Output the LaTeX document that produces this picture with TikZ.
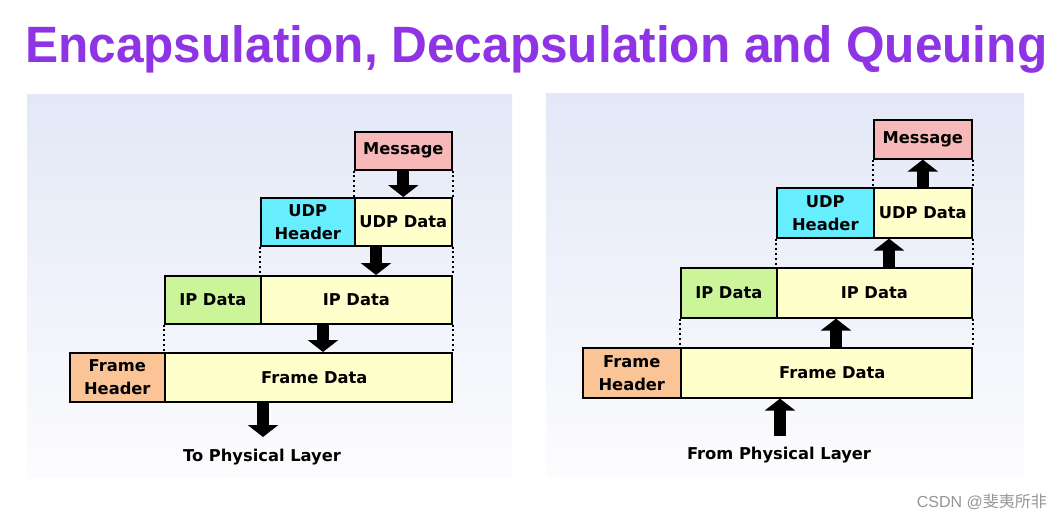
\documentclass[tikz,border=0pt]{standalone}
\usepackage{graphicx}
\usepackage{fontspec}
\setmainfont{DejaVu Sans}
\newfontfamily\titlefont{Liberation Sans}
\newfontfamily\cjk{Noto Sans CJK SC}
\usetikzlibrary{arrows.meta}
\definecolor{msgc}{RGB}{246,184,184}
\definecolor{udpc}{RGB}{102,238,255}
\definecolor{yelc}{RGB}{255,255,204}
\definecolor{grnc}{RGB}{204,245,153}
\definecolor{frmc}{RGB}{250,196,150}
\definecolor{titc}{RGB}{143,52,228}
\definecolor{pantop}{RGB}{226,232,246}
\definecolor{panbot}{RGB}{252,252,254}
\definecolor{wmc}{RGB}{150,150,150}
\begin{document}
\begin{tikzpicture}[x=1pt,y=-1pt,
  box/.style={draw=black, line width=1.6pt, anchor=north west, inner sep=0pt, align=center,
    font=\bfseries\fontsize{16.3}{23}\selectfont},
  dots/.style={line width=2pt, dash pattern=on 2pt off 2.8pt},
  bigarrow/.style={line width=12pt, -{Triangle[width=30pt,length=12pt]}},
  panel/.style={top color=pantop, bottom color=panbot, draw=none},
  lbl/.style={font=\bfseries\fontsize{16.3}{20}\selectfont}]
\useasboundingbox (0,0) rectangle (1062,520);
\fill[white] (0,0) rectangle (1062,520);
% title
\node[inner sep=0pt, anchor=base west, text=titc] (title) at (25,62)
  {\resizebox{1022pt}{37pt}{\titlefont\bfseries Encapsulation, Decapsulation and Queuing}};
% panels
\shade[panel] (27,94) rectangle (512,477);
\shade[panel] (546,93) rectangle (1024,476);
% ---------- left panel ----------
\node[box, fill=msgc, minimum width=97pt, minimum height=38pt] (lmsg) at (354,131) {Message};
\node[box, fill=udpc, minimum width=94pt, minimum height=48pt] (ludph) at (260,197) {UDP\\Header};
\node[box, fill=yelc, minimum width=97pt, minimum height=48pt] (ludpd) at (354,197) {UDP Data};
\node[box, fill=grnc, minimum width=96pt, minimum height=48pt] (lipg) at (164,275) {IP Data};
\node[box, fill=yelc, minimum width=191pt, minimum height=48pt] (lipy) at (260,275) {IP Data};
\node[box, fill=frmc, minimum width=95pt, minimum height=49pt] (lfh) at (69,352) {Frame\\Header};
\node[box, fill=yelc, minimum width=287pt, minimum height=49pt] (lfd) at (164,352) {\hspace*{12pt}Frame Data};
\draw[dots] (lmsg.south west) -- (ludpd.north west);
\draw[dots] (lmsg.south east) -- (ludpd.north east);
\draw[dots] (ludph.south west) -- (lipy.north west);
\draw[dots] (ludpd.south east) -- (lipy.north east);
\draw[dots] (lipg.south west) -- (lfd.north west);
\draw[dots] (lipy.south east) -- (lfd.north east);
\coordinate (la2) at (376,0);
\coordinate (la3) at (323,0);
\coordinate (lout) at (263,437);
\draw[bigarrow] (lmsg.south) -- (ludpd.north);
\draw[bigarrow] (la2 |- ludpd.south) -- (la2 |- lipy.north);
\draw[bigarrow] (la3 |- lipy.south) -- (la3 |- lfd.north);
\draw[bigarrow] (lout |- lfd.south) -- (lout);
\node[lbl] (lphys) at (262,457) {To Physical Layer};
% ---------- right panel ----------
\node[box, fill=msgc, minimum width=98pt, minimum height=39pt] (rmsg) at (873,119) {Message};
\node[box, fill=udpc, minimum width=97pt, minimum height=50pt] (rudph) at (776,187) {UDP\\Header};
\node[box, fill=yelc, minimum width=98pt, minimum height=50pt] (rudpd) at (873,187) {UDP Data};
\node[box, fill=grnc, minimum width=96pt, minimum height=50pt] (ripg) at (680,267) {IP Data};
\node[box, fill=yelc, minimum width=195pt, minimum height=50pt] (ripy) at (776,267) {IP Data};
\node[box, fill=frmc, minimum width=98pt, minimum height=50pt] (rfh) at (582,347) {Frame\\Header};
\node[box, fill=yelc, minimum width=291pt, minimum height=50pt] (rfd) at (680,347) {\hspace*{12pt}Frame Data};
\draw[dots] (rmsg.south west) -- (rudpd.north west);
\draw[dots] (rmsg.south east) -- (rudpd.north east);
\draw[dots] (rudph.south west) -- (ripy.north west);
\draw[dots] (rudpd.south east) -- (ripy.north east);
\draw[dots] (ripg.south west) -- (rfd.north west);
\draw[dots] (ripy.south east) -- (rfd.north east);
\coordinate (ra2) at (889,0);
\coordinate (ra3) at (836,0);
\coordinate (rin) at (780,436);
\draw[bigarrow] (rudpd.north) -- (rmsg.south);
\draw[bigarrow] (ra2 |- ripy.north) -- (ra2 |- rudpd.south);
\draw[bigarrow] (ra3 |- rfd.north) -- (ra3 |- ripy.south);
\draw[bigarrow] (rin) -- (rin |- rfd.south);
\node[lbl] (rphys) at (779,455) {From Physical Layer};
% watermark
\node[anchor=east, inner sep=0pt, text=wmc, font=\fontsize{16}{16}\selectfont] (wm) at (1047,502)
  {\titlefont CSDN @{\cjk 斐夷所非}};
\end{tikzpicture}
\end{document}
